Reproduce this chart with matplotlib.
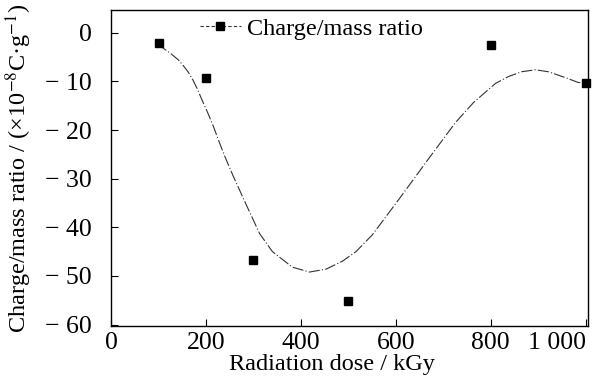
import matplotlib.pyplot as plt
from matplotlib.lines import Line2D

# measured points
dose = [100, 200, 300, 500, 800, 1000]
ratio = [-2.0, -9.2, -46.8, -55.2, -2.4, -10.4]

# fitted curve
curve_x = [100, 109, 125, 141, 151, 162, 172, 182, 192, 203, 215, 228, 240, 257, 285, 313,
           340, 382, 418, 453, 487, 516, 550, 606, 669, 726, 764, 810, 837, 865, 894,
           921, 957, 984, 1000]
curve_y = [-2.0, -3.1, -4.2, -5.5, -6.6, -8.0, -9.6, -11.6, -13.9, -16.3, -19.1, -22.5,
           -25.5, -29.4, -35.4, -41.3, -45.0, -48.2, -49.2, -48.6, -47.0, -45.0, -41.6,
           -34.3, -25.9, -18.4, -14.3, -10.4, -9.0, -8.0, -7.6, -8.0, -9.2, -10.2, -10.4]

xticks = [0, 200, 400, 600, 800, 1000]
xticklabels = ["0", "200", "400", "600", "800", "1 000"]
yticks = [0, -10, -20, -30, -40, -50, -60]
yticklabels = ["0", "\u2212 10", "\u2212 20", "\u2212 30", "\u2212 40", "\u2212 50", "\u2212 60"]

plt.rcParams['font.family'] = ['Liberation Serif', 'DejaVu Serif']
plt.rcParams['mathtext.fontset'] = 'stix'

fig = plt.figure(figsize=(5.94, 3.84), dpi=100)
ax = fig.add_axes([0.187, 0.151, 0.803, 0.823])

ax.plot(curve_x, curve_y, color='#333333', linewidth=0.8, linestyle=(0, (10, 2, 1, 2)))
ax.plot(dose, ratio, linestyle='none', marker='s', markersize=6, color='black', clip_on=False)

ax.set_xlim(0, 1005)
ax.set_ylim(-60.3, 4.7)
ax.set_xticks(xticks)
ax.set_xticklabels(xticklabels)
ax.set_yticks(yticks)
ax.set_yticklabels(yticklabels)
ax.tick_params(direction='in', length=5, width=0.8, labelsize=18.5)
ax.tick_params(axis='y', pad=14)
ax.tick_params(axis='x', pad=4)
ax.get_xticklabels()[-1].set_horizontalalignment('right')
ax.get_xticklabels()[-1].set_x(1010)

for s in ax.spines.values():
    s.set_linewidth(1.0)

ax.set_xlabel("Radiation dose / kGy", fontsize=17.5, labelpad=0)
ax.xaxis.set_label_coords(0.463, -0.09)
ax.set_ylabel("Charge/mass ratio / (\u00d710$^{-8}$C\u00b7g$^{-1}$)", fontsize=17.5, labelpad=8)

handle = Line2D([], [], color='#333333', linestyle=(0, (3, 2)), linewidth=0.8,
                marker='s', markersize=6, markerfacecolor='black', markeredgecolor='black')
ax.legend([handle], ["Charge/mass ratio"], loc='upper left', bbox_to_anchor=(0.14, 1.045),
          frameon=False, fontsize=17.5, handlelength=1.7, handletextpad=0.25)

fig.savefig("out.png", dpi=100)
